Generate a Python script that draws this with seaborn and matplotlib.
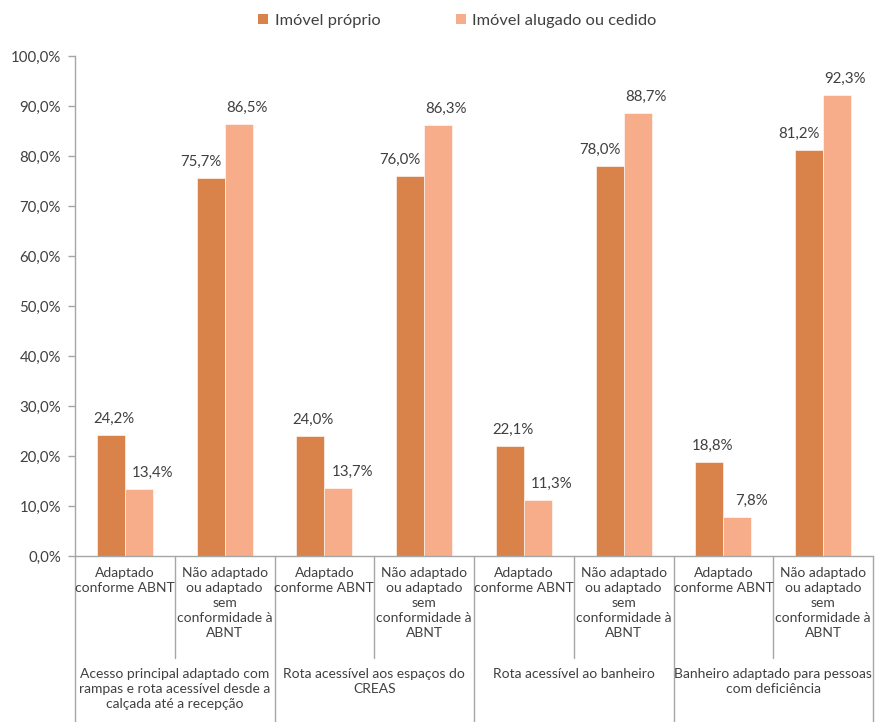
import matplotlib
matplotlib.use("Agg")
import matplotlib.pyplot as plt
import matplotlib.transforms as mtransforms
from matplotlib.patches import Patch
import seaborn as sns
import pandas as pd

# --- data ---------------------------------------------------------------
groups = [
    "Acesso principal adaptado com\nrampas e rota acessível desde a\ncalçada até a recepção",
    "Rota acessível aos espaços do\nCREAS",
    "Rota acessível ao banheiro",
    "Banheiro adaptado para pessoas\ncom deficiência",
]
subcats = [
    "Adaptado\nconforme ABNT",
    "Não adaptado\nou adaptado\nsem\nconformidade à\nABNT",
]
series = ["Imóvel próprio", "Imóvel alugado ou cedido"]
proprio = [24.2, 75.7, 24.0, 76.0, 22.1, 78.0, 18.8, 81.2]
alugado = [13.4, 86.5, 13.7, 86.3, 11.3, 88.7, 7.8, 92.3]
yticks = [0, 10, 20, 30, 40, 50, 60, 70, 80, 90, 100]

colors = ["#D9834A", "#F8AD8A"]
text_color = "#404040"
line_color = "#A6A6A6"

keys = [f"{g}|{s}" for g in range(len(groups)) for s in range(len(subcats))]
df = pd.DataFrame({
    "key": keys * 2,
    "valor": proprio + alugado,
    "serie": [series[0]] * len(keys) + [series[1]] * len(keys),
})

sns.set_theme(style="white")
plt.rcParams["font.family"] = ["Lato", "DejaVu Sans"]
plt.rcParams["text.color"] = text_color

W, H = 875, 722
fig = plt.figure(figsize=(W / 100, H / 100), dpi=100)
x0, x1, y0, y1 = 75, 873, 556, 56
ax = fig.add_axes([x0 / W, (H - y0) / H, (x1 - x0) / W, (y0 - y1) / H])

sns.barplot(data=df, x="key", y="valor", hue="serie", order=keys,
            hue_order=series, palette=colors, width=0.56, gap=0,
            edgecolor="white", linewidth=0.4, saturation=1,
            legend=False, ax=ax)

ax.set_xlim(-0.5, len(keys) - 0.5)
ax.set_ylim(0, 100)
ax.set_yticks(yticks)
ax.set_yticklabels([f"{v:.1f}%".replace(".", ",") for v in yticks],
                   fontsize=10.8, color=text_color)
ax.tick_params(axis="y", length=5, width=1, color=line_color, pad=5, left=True)
ax.set_xticks([])
ax.set_xlabel("")
ax.set_ylabel("")
for side in ["top", "right"]:
    ax.spines[side].set_visible(False)
for side in ["left", "bottom"]:
    ax.spines[side].set_color(line_color)
    ax.spines[side].set_linewidth(1)

# value labels above each bar
fmt = lambda v: f"{v:.1f}%".replace(".", ",")
dark_dx = [3, -10]
light_dx = [14, 8]
for cont, vals, dxs in zip(ax.containers, [proprio, alugado], [dark_dx, light_dx]):
    for i, (bar, v) in enumerate(zip(cont.patches, vals)):
        cx = bar.get_x() + bar.get_width() / 2
        ax.annotate(fmt(v), (cx, v), xytext=(dxs[i % 2], 16),
                    textcoords="offset pixels", ha="center", va="center",
                    fontsize=10.8, color=text_color)

# multi-level category axis
trans = mtransforms.blended_transform_factory(ax.transData, ax.transAxes)
px = lambda y: (y0 - y) / (y0 - y1)  # pixel row -> axes fraction
n_sub = len(subcats)
for g in range(len(groups)):
    for s in range(n_sub):
        xi = g * n_sub + s
        ax.text(xi, px(567), subcats[s], transform=trans, ha="center",
                va="top", fontsize=10, linespacing=1.3, color=text_color)
        if s > 0:
            ax.plot([xi - 0.5, xi - 0.5], [0, px(658)], transform=trans,
                    color=line_color, lw=1, clip_on=False)
    gc = g * n_sub + (n_sub - 1) / 2
    ax.text(gc, px(668), groups[g], transform=trans, ha="center", va="top",
            fontsize=10, linespacing=1.3, color=text_color)
for b in range(len(groups) + 1):
    xb = b * n_sub - 0.5
    ax.plot([xb, xb], [0, px(H + 2)], transform=trans, color=line_color,
            lw=1, clip_on=False)

handles = [Patch(facecolor=c, edgecolor="none") for c in colors]
fig.legend(handles, series, loc="center", bbox_to_anchor=(0.523, 1 - 21 / H),
           ncol=2, frameon=False, fontsize=11.8, handlelength=0.6,
           handleheight=0.6, handletextpad=0.4, columnspacing=4.6,
           labelcolor=text_color)

fig.savefig("out.png", dpi=100, facecolor="white")
